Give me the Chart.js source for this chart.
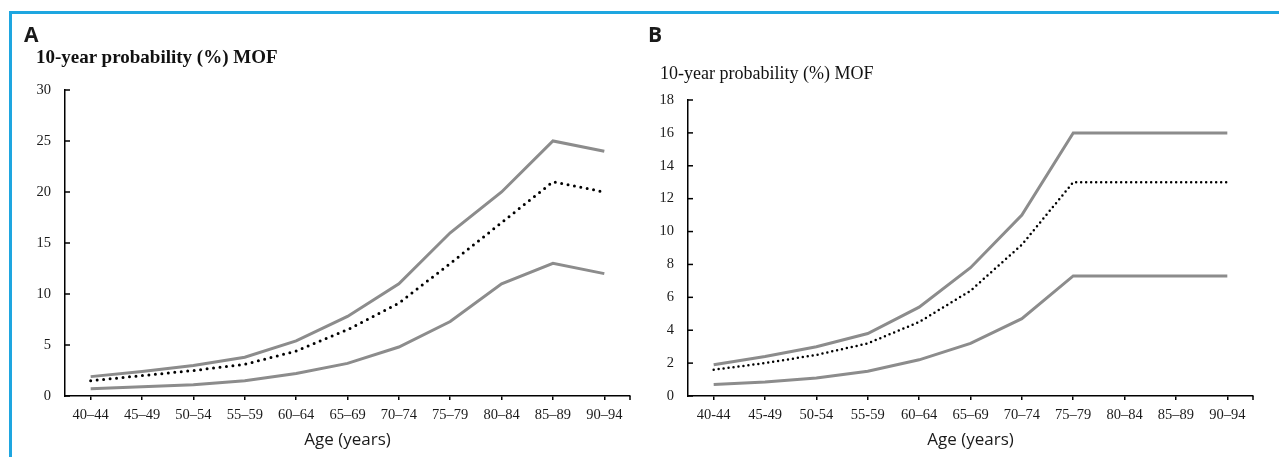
<!DOCTYPE html>
<html>
<head>
<meta charset="utf-8">
<script src="https://cdn.jsdelivr.net/npm/chart.js@4.4.1/dist/chart.umd.min.js"></script>
<style>
  html, body { margin: 0; padding: 0; background: #fff; }
  #wrap { position: relative; width: 1279px; height: 457px; overflow: hidden; }
  #frame { position: absolute; left: 9px; top: 11px; right: -10px; bottom: -10px;
           border-top: 3px solid #1ea6e0; border-left: 3px solid #1ea6e0; }
  .panel { position: absolute; top: 0; height: 457px; }
  .letter { position: absolute; font-family: "Open Sans", sans-serif; font-weight: bold;
            font-size: 21px; color: #1a1a1a; }
  .ytitle { position: absolute; font-family: "Liberation Serif", serif; color: #111; white-space: nowrap; }
</style>
</head>
<body>
<div id="wrap">
  <div id="frame"></div>
  <div class="panel" style="left:0;width:640px;"><canvas id="chartA" width="640" height="457"></canvas></div>
  <div class="panel" style="left:640px;width:639px;"><canvas id="chartB" width="639" height="457"></canvas></div>
  <div class="letter" style="left:24px;top:20px;">A</div>
  <div class="letter" style="left:648px;top:20px;">B</div>
  <div class="ytitle" style="left:36px;top:46px;font-size:19px;font-weight:bold;">10-year probability (%) MOF</div>
  <div class="ytitle" style="left:660px;top:63px;font-size:18px;">10-year probability (%) MOF</div>
</div>
<script>
// --- Datos ---
const edadesA = ['40–44', '45–49', '50–54', '55–59', '60–64', '65–69', '70–74', '75–79', '80–84', '85–89', '90–94'];
const edadesB = ['40-44', '45-49', '50-54', '55-59', '60–64', '65–69', '70–74', '75–79', '80–84', '85–89', '90–94'];

// Panel A
const superiorA = [1.9, 2.4, 3.0, 3.8, 5.4, 7.8, 11.0, 16.0, 20.0, 25.0, 24.0];
const medioA    = [1.5, 2.0, 2.5, 3.1, 4.4, 6.5, 9.1, 13.0, 17.0, 21.0, 20.0];
const inferiorA = [0.7, 0.9, 1.1, 1.5, 2.2, 3.2, 4.8, 7.3, 11.0, 13.0, 12.0];

// Panel B
const superiorB = [1.9, 2.4, 3.0, 3.8, 5.4, 7.8, 11.0, 16.0, 16.0, 16.0, 16.0];
const medioB    = [1.6, 2.0, 2.5, 3.2, 4.5, 6.4, 9.2, 13.0, 13.0, 13.0, 13.0];
const inferiorB = [0.7, 0.85, 1.1, 1.5, 2.2, 3.2, 4.7, 7.3, 7.3, 7.3, 7.3];

const gris = '#8c8c8c';
const fuenteSerif = 'Liberation Serif';

// ticks del eje y hacia dentro + tick final del eje x
const ticksInternos = {
    id: 'ticksInternos',
    afterDraw(chart) {
        const ctx = chart.ctx;
        const y = chart.scales.y;
        const x = chart.scales.x;
        ctx.save();
        ctx.strokeStyle = '#000';
        ctx.lineWidth = 1.5;
        y.ticks.forEach(t => {
            const py = y.getPixelForValue(t.value);
            ctx.beginPath();
            ctx.moveTo(y.right, py);
            ctx.lineTo(y.right + 5, py);
            ctx.stroke();
        });
        ctx.beginPath();
        ctx.moveTo(x.right, x.top);
        ctx.lineTo(x.right, x.top + 4);
        ctx.stroke();
        ctx.restore();
    }
};

function crearGrafica(id, etiquetas, sup, med, inf, cfg) {
    const ctx = document.getElementById(id).getContext('2d');
    return new Chart(ctx, {
        type: 'line',
        data: {
            labels: etiquetas,
            datasets: [
                { data: sup, borderColor: gris, borderWidth: 3, pointRadius: 0, tension: 0 },
                { data: med, borderColor: '#000', borderWidth: cfg.dotWidth, borderDash: cfg.dash,
                  borderCapStyle: 'round', pointRadius: 0, tension: 0 },
                { data: inf, borderColor: gris, borderWidth: 3, pointRadius: 0, tension: 0 }
            ]
        },
        options: {
            responsive: false,
            animation: false,
            events: [],
            layout: { padding: { top: cfg.top, right: cfg.right, left: 0, bottom: 0 } },
            plugins: { legend: { display: false }, tooltip: { enabled: false } },
            scales: {
                x: {
                    offset: true,
                    afterFit: s => { s.height = 61; },
                    grid: { drawOnChartArea: false, drawTicks: true, tickLength: 4, color: '#000', lineWidth: 1.5 },
                    border: { display: true, color: '#000', width: 1.5 },
                    ticks: { color: '#1a1a1a', font: { family: fuenteSerif, size: 14.5 }, padding: 6, maxRotation: 0, autoSkip: false },
                    title: { display: true, text: 'Age (years)', color: '#1a1a1a',
                             font: { family: 'Open Sans', size: 17 }, padding: { top: 0, bottom: 7 } }
                },
                y: {
                    min: 0, max: cfg.max,
                    afterFit: s => { s.width = cfg.yWidth; },
                    grid: { display: false, drawTicks: false },
                    border: { display: true, color: '#000', width: 1.5 },
                    ticks: { stepSize: cfg.step, color: '#1a1a1a', font: { family: fuenteSerif, size: 14.5 }, padding: 14 }
                }
            }
        },
        plugins: [ticksInternos]
    });
}

crearGrafica('chartA', edadesA, superiorA, medioA, inferiorA,
    { max: 30, step: 5, top: 90, right: 10, yWidth: 65, dotWidth: 3, dash: [0, 6.5] });
crearGrafica('chartB', edadesB, superiorB, medioB, inferiorB,
    { max: 18, step: 2, top: 100, right: 26, yWidth: 48, dotWidth: 2.5, dash: [0, 5] });
</script>
</body>
</html>
